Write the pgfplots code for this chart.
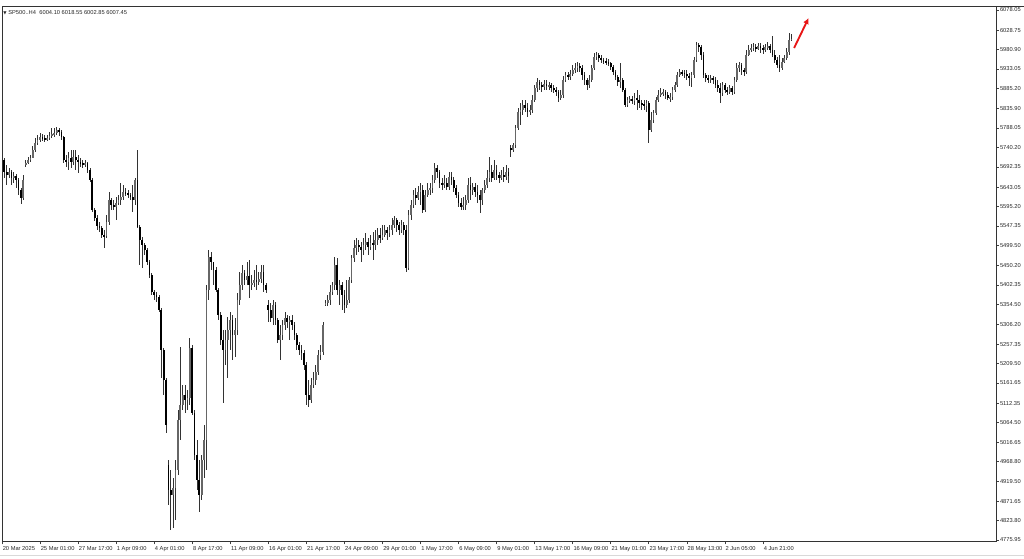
\documentclass[border=0pt]{standalone}
\usepackage{fontspec}
\setmainfont{Liberation Sans}
\newfontfamily\dejavu{DejaVu Sans}
\usepackage{pgfplots}
\usepackage{pgfplotstable}
\pgfplotsset{compat=1.18}
\usetikzlibrary{arrows.meta}
\definecolor{arrowred}{RGB}{232,22,22}

\pgfplotstableread{
i o h l c
-15 5709.5 5714.4 5665.3 5680.1
-14 5680.1 5697.2 5648.1 5672.7
-13 5672.7 5689.8 5665.3 5680.1
-12 5680.1 5685.0 5648.1 5665.3
-11 5665.3 5680.1 5653.0 5670.3
-10 5670.3 5675.2 5640.7 5660.4
-9 5660.4 5665.3 5623.5 5635.8
-8 5635.8 5640.7 5601.4 5616.1
-7 5616.1 5672.7 5611.2 5660.4
-6 5697.2 5709.5 5692.3 5702.1
-5 5702.1 5716.9 5699.7 5709.5
-4 5709.5 5721.8 5704.6 5714.4
-3 5714.4 5744.0 5714.4 5734.1
-2 5734.1 5763.5 5729.2 5751.3
-1 5751.3 5770.9 5746.4 5758.7
0 5758.7 5775.8 5753.8 5766.0
1 5766.0 5773.3 5756.2 5763.5
2 5763.5 5770.9 5753.8 5761.1
3 5761.1 5770.9 5756.2 5763.5
4 5763.5 5778.3 5758.7 5768.5
5 5768.5 5788.1 5763.5 5773.3
6 5773.3 5788.1 5766.0 5775.8
7 5775.8 5790.6 5770.9 5783.2
8 5783.2 5788.1 5768.5 5778.3
9 5778.3 5783.2 5758.7 5766.0
10 5766.0 5768.5 5702.1 5709.5
11 5709.5 5721.8 5692.3 5704.6
12 5704.6 5729.2 5685.0 5714.4
13 5714.4 5734.1 5689.8 5704.6
14 5704.6 5734.1 5697.2 5716.9
15 5716.9 5734.1 5685.0 5709.5
16 5709.5 5721.8 5677.6 5704.6
17 5704.6 5714.4 5692.3 5702.1
18 5702.1 5709.5 5689.8 5699.7
19 5699.7 5709.5 5692.3 5702.1
20 5702.1 5704.6 5677.6 5685.0
21 5685.0 5689.8 5655.5 5660.4
22 5660.4 5665.3 5581.8 5586.7
23 5586.7 5591.6 5559.6 5567.0
24 5567.0 5574.4 5537.5 5547.4
25 5547.4 5557.2 5532.6 5542.4
26 5542.4 5547.4 5517.9 5525.2
27 5525.2 5537.5 5493.3 5522.8
28 5522.8 5574.4 5517.9 5557.2
29 5557.2 5630.9 5549.8 5611.2
30 5611.2 5616.1 5586.7 5598.9
31 5598.9 5611.2 5586.7 5594.0
32 5594.0 5618.6 5562.1 5603.8
33 5603.8 5623.5 5598.9 5611.2
34 5611.2 5653.0 5598.9 5618.6
35 5618.6 5648.1 5611.2 5630.9
36 5630.9 5640.7 5621.1 5628.4
37 5628.4 5635.8 5616.1 5623.5
38 5623.5 5628.4 5611.2 5618.6
39 5618.6 5648.1 5581.8 5611.2
40 5611.2 5665.3 5598.9 5660.4
41 5660.4 5734.1 5542.4 5545.0
42 5545.0 5549.8 5451.5 5513.0
43 5513.0 5520.3 5444.2 5500.7
44 5500.7 5505.6 5476.1 5488.4
45 5488.4 5493.3 5451.5 5458.9
46 5458.9 5463.8 5419.6 5427.0
47 5427.0 5431.9 5377.8 5385.2
48 5385.2 5390.1 5365.6 5377.8
49 5377.8 5385.2 5360.7 5372.9
50 5372.9 5377.8 5336.1 5341.0
51 5341.0 5345.9 5173.9 5242.7
52 5242.7 5247.6 5132.2 5169.0
53 5169.0 5173.9 5038.8 5058.4
54 4960.2 4972.5 4861.9 4898.8
55 4898.8 4947.9 4800.5 4886.5
56 4886.5 4928.2 4805.4 4903.7
57 4903.7 4972.5 4825.1 4947.9
58 4947.9 5095.3 4935.6 5070.7
59 5070.7 5250.1 5021.6 5107.6
60 5107.6 5156.7 5095.3 5132.2
61 5132.2 5156.7 5087.9 5119.9
62 5119.9 5144.4 5095.3 5124.8
63 5124.8 5272.2 5107.6 5247.6
64 5247.6 5255.0 5083.0 5087.9
65 5087.9 5095.3 4972.5 4984.7
66 4984.7 5021.6 4898.8 4923.3
67 4923.3 4972.5 4844.7 4886.5
68 4886.5 4984.7 4874.2 4972.5
69 4972.5 5058.4 4928.2 5021.6
70 5021.6 5402.4 4947.9 5390.1
71 5390.1 5488.4 5365.6 5471.2
72 5471.2 5483.5 5439.3 5458.9
73 5458.9 5458.9 5402.4 5439.3
74 5439.3 5446.6 5385.2 5390.1
75 5390.1 5395.0 5316.4 5328.7
76 5328.7 5336.1 5255.0 5267.3
77 5267.3 5291.9 5112.5 5242.7
78 5242.7 5291.9 5205.9 5267.3
79 5267.3 5324.2 5173.9 5291.9
80 5291.9 5336.1 5242.7 5316.4
81 5316.4 5328.7 5218.2 5279.6
82 5279.6 5321.3 5225.6 5291.9
83 5291.9 5382.7 5279.6 5365.6
84 5365.6 5434.4 5353.3 5402.4
85 5402.4 5451.5 5390.1 5431.9
86 5431.9 5439.3 5402.4 5414.7
87 5414.7 5458.9 5402.4 5424.5
88 5424.5 5463.8 5370.5 5402.4
89 5402.4 5427.0 5390.1 5407.3
90 5407.3 5439.3 5397.5 5414.7
91 5414.7 5451.5 5390.1 5409.8
92 5409.8 5434.4 5402.4 5417.1
93 5417.1 5451.5 5407.3 5434.4
94 5434.4 5451.5 5385.2 5402.4
95 5402.4 5407.3 5382.7 5390.1
96 5353.3 5365.6 5311.5 5341.0
97 5341.0 5358.2 5311.5 5321.3
98 5321.3 5365.6 5304.1 5353.3
99 5353.3 5360.7 5304.1 5316.4
100 5316.4 5321.3 5259.9 5267.3
101 5267.3 5304.1 5218.2 5279.6
102 5279.6 5316.4 5267.3 5304.1
103 5304.1 5336.1 5291.9 5321.3
104 5321.3 5328.7 5296.8 5311.5
105 5311.5 5326.2 5267.3 5316.4
106 5316.4 5328.7 5291.9 5304.1
107 5304.1 5311.5 5267.3 5279.6
108 5279.6 5284.5 5242.7 5255.0
109 5255.0 5262.4 5230.4 5242.7
110 5242.7 5255.0 5218.2 5235.3
111 5235.3 5242.7 5193.6 5205.9
112 5205.9 5213.3 5107.6 5132.2
113 5132.2 5169.0 5102.7 5119.9
114 5119.9 5173.9 5112.5 5156.7
115 5156.7 5188.7 5149.3 5169.0
116 5169.0 5205.9 5156.7 5188.7
117 5188.7 5242.7 5181.3 5230.4
118 5230.4 5255.0 5218.2 5237.8
119 5237.8 5311.5 5230.4 5304.1
120 5353.3 5365.6 5350.9 5358.2
121 5358.2 5377.8 5350.9 5365.6
122 5365.6 5402.4 5353.3 5385.2
123 5385.2 5409.8 5377.8 5402.4
124 5402.4 5471.2 5390.1 5451.5
125 5451.5 5468.7 5377.8 5390.1
126 5390.1 5414.7 5353.3 5402.4
127 5402.4 5409.8 5341.0 5377.8
128 5377.8 5390.1 5333.6 5353.3
129 5353.3 5414.7 5345.9 5365.6
130 5365.6 5422.1 5358.2 5414.7
131 5414.7 5476.1 5407.3 5468.7
132 5468.7 5513.0 5458.9 5493.3
133 5493.3 5517.9 5476.1 5500.7
134 5500.7 5513.0 5483.5 5495.8
135 5495.8 5508.1 5458.9 5488.4
136 5488.4 5517.9 5476.1 5500.7
137 5500.7 5530.2 5488.4 5508.1
138 5508.1 5517.9 5476.1 5495.8
139 5495.8 5525.2 5488.4 5505.6
140 5505.6 5532.6 5463.8 5500.7
141 5500.7 5537.5 5488.4 5513.0
142 5513.0 5542.4 5500.7 5525.2
143 5525.2 5542.4 5505.6 5517.9
144 5517.9 5549.8 5513.0 5525.2
145 5525.2 5549.8 5520.3 5537.5
146 5537.5 5545.0 5513.0 5530.2
147 5530.2 5549.8 5520.3 5537.5
148 5537.5 5567.0 5525.2 5549.8
149 5549.8 5571.9 5542.4 5562.1
150 5562.1 5567.0 5532.6 5549.8
151 5549.8 5557.2 5525.2 5537.5
152 5537.5 5562.1 5530.2 5549.8
153 5549.8 5557.2 5525.2 5537.5
154 5537.5 5549.8 5434.4 5444.2
155 5444.2 5586.7 5439.3 5574.4
156 5574.4 5611.2 5562.1 5598.9
157 5598.9 5635.8 5591.6 5623.5
158 5623.5 5640.7 5598.9 5616.1
159 5616.1 5645.6 5611.2 5630.9
160 5630.9 5653.0 5598.9 5635.8
161 5635.8 5648.1 5579.3 5586.7
162 5586.7 5635.8 5581.8 5623.5
163 5623.5 5653.0 5618.6 5635.8
164 5635.8 5653.0 5623.5 5640.7
165 5640.7 5672.7 5628.4 5660.4
166 5660.4 5702.1 5653.0 5689.8
167 5689.8 5697.2 5665.3 5680.1
168 5680.1 5685.0 5640.7 5653.0
169 5653.0 5665.3 5635.8 5648.1
170 5648.1 5672.7 5640.7 5653.0
171 5653.0 5665.3 5635.8 5643.2
172 5643.2 5680.1 5635.8 5667.8
173 5667.8 5680.1 5648.1 5660.4
174 5660.4 5667.8 5630.9 5640.7
175 5640.7 5648.1 5616.1 5623.5
176 5623.5 5630.9 5594.0 5603.8
177 5603.8 5616.1 5586.7 5594.0
178 5594.0 5618.6 5586.7 5598.9
179 5598.9 5623.5 5586.7 5611.2
180 5611.2 5665.3 5603.8 5648.1
181 5648.1 5667.8 5611.2 5635.8
182 5635.8 5653.0 5623.5 5643.2
183 5643.2 5653.0 5618.6 5630.9
184 5630.9 5648.1 5603.8 5623.5
185 5623.5 5635.8 5579.3 5611.2
186 5611.2 5640.7 5598.9 5635.8
187 5635.8 5660.4 5628.4 5648.1
188 5648.1 5685.0 5640.7 5665.3
189 5665.3 5716.9 5655.5 5680.1
190 5680.1 5697.2 5655.5 5665.3
191 5665.3 5709.5 5660.4 5685.0
192 5685.0 5697.2 5660.4 5672.7
193 5672.7 5680.1 5653.0 5665.3
194 5665.3 5685.0 5660.4 5672.7
195 5672.7 5692.3 5655.5 5667.8
196 5667.8 5697.2 5660.4 5680.1
197 5680.1 5689.8 5653.0 5670.3
198 5739.0 5746.4 5716.9 5734.1
199 5734.1 5751.3 5729.2 5746.4
200 5746.4 5795.5 5739.0 5788.1
201 5788.1 5837.3 5783.2 5827.5
202 5827.5 5849.5 5795.5 5832.4
203 5832.4 5856.9 5820.1 5844.6
204 5844.6 5856.9 5827.5 5837.3
205 5837.3 5849.5 5815.2 5827.5
206 5827.5 5844.6 5820.1 5832.4
207 5832.4 5869.2 5824.9 5856.9
208 5856.9 5893.8 5852.0 5886.5
209 5886.5 5911.0 5876.6 5901.1
210 5901.1 5906.1 5881.5 5893.8
211 5893.8 5901.1 5876.6 5888.9
212 5888.9 5906.1 5881.5 5896.3
213 5896.3 5906.1 5881.5 5891.4
214 5891.4 5901.1 5881.5 5893.8
215 5893.8 5898.7 5876.6 5886.5
216 5886.5 5893.8 5874.1 5881.5
217 5881.5 5888.9 5866.7 5876.6
218 5876.6 5881.5 5852.0 5861.8
219 5861.8 5881.5 5856.9 5869.2
220 5869.2 5915.9 5861.8 5906.1
221 5906.1 5925.7 5901.1 5918.3
222 5918.3 5925.7 5906.1 5913.4
223 5913.4 5930.6 5906.1 5920.8
224 5920.8 5942.9 5915.9 5930.6
225 5930.6 5947.8 5923.2 5935.5
226 5935.5 5950.3 5925.7 5940.4
227 5940.4 5947.8 5925.7 5935.5
228 5935.5 5942.9 5906.1 5918.3
229 5918.3 5925.7 5893.8 5906.1
230 5906.1 5911.0 5881.5 5893.8
231 5893.8 5918.3 5886.5 5906.1
232 5906.1 5942.9 5901.1 5935.5
233 5935.5 5972.4 5930.6 5962.6
234 5962.6 5974.9 5955.2 5967.5
235 5967.5 5972.4 5950.3 5960.1
236 5960.1 5967.5 5947.8 5955.2
237 5955.2 5960.1 5945.3 5952.7
238 5952.7 5960.1 5942.9 5950.3
239 5950.3 5957.6 5940.4 5947.8
240 5947.8 5950.3 5930.6 5938.0
241 5938.0 5942.9 5918.3 5925.7
242 5925.7 5930.6 5906.1 5913.4
243 5913.4 5918.3 5891.4 5901.1
244 5901.1 5947.8 5886.5 5906.1
245 5906.1 5911.0 5876.6 5881.5
246 5881.5 5886.5 5839.7 5844.6
247 5844.6 5864.3 5839.7 5856.9
248 5856.9 5866.7 5849.5 5859.4
249 5859.4 5866.7 5847.1 5854.5
250 5854.5 5874.1 5844.6 5861.8
251 5861.8 5881.5 5832.4 5856.9
252 5856.9 5869.2 5837.3 5849.5
253 5849.5 5856.9 5832.4 5847.1
254 5847.1 5856.9 5832.4 5842.2
255 5842.2 5856.9 5827.5 5849.5
256 5849.5 5854.5 5751.3 5783.2
257 5783.2 5827.5 5778.3 5807.8
258 5807.8 5832.4 5800.4 5824.9
259 5824.9 5864.3 5820.1 5856.9
260 5856.9 5881.5 5852.0 5869.2
261 5869.2 5886.5 5864.3 5874.1
262 5874.1 5884.0 5866.7 5876.6
263 5876.6 5881.5 5859.4 5869.2
264 5869.2 5876.6 5856.9 5861.8
265 5861.8 5874.1 5852.0 5864.3
266 5864.3 5888.9 5856.9 5881.5
267 5881.5 5901.1 5876.6 5893.8
268 5893.8 5925.7 5888.9 5918.3
269 5918.3 5933.1 5913.4 5925.7
270 5925.7 5930.6 5915.9 5923.2
271 5923.2 5930.6 5911.0 5920.8
272 5920.8 5930.6 5906.1 5915.9
273 5915.9 5923.2 5891.4 5911.0
274 5911.0 5925.7 5888.9 5918.3
275 5918.3 5962.6 5911.0 5955.2
276 5955.2 5999.4 5950.3 5992.0
277 5992.0 5997.0 5974.9 5987.1
278 5987.1 5992.0 5955.2 5967.5
279 5967.5 5974.9 5911.0 5918.3
280 5918.3 5923.2 5901.1 5911.0
281 5911.0 5918.3 5898.7 5906.1
282 5906.1 5918.3 5898.7 5911.0
283 5911.0 5915.9 5896.3 5906.1
284 5906.1 5913.4 5886.5 5893.8
285 5893.8 5906.1 5876.6 5886.5
286 5886.5 5898.7 5849.5 5874.1
287 5874.1 5901.1 5866.7 5893.8
288 5893.8 5898.7 5874.1 5881.5
289 5881.5 5888.9 5869.2 5876.6
290 5876.6 5893.8 5871.6 5886.5
291 5886.5 5891.4 5869.2 5876.6
292 5876.6 5913.4 5871.6 5906.1
293 5906.1 5947.8 5901.1 5935.5
294 5935.5 5950.3 5925.7 5942.9
295 5942.9 5947.8 5918.3 5930.6
296 5930.6 5935.5 5915.9 5925.7
297 5925.7 5979.8 5920.8 5967.5
298 5967.5 5992.0 5965.0 5979.8
299 5979.8 5994.5 5974.9 5984.7
300 5984.7 5997.0 5977.3 5987.1
301 5987.1 5994.5 5974.9 5982.2
302 5982.2 5997.0 5979.8 5989.6
303 5989.6 5997.0 5972.4 5984.7
304 5984.7 5992.0 5969.9 5979.8
305 5979.8 5994.5 5974.9 5987.1
306 5987.1 5999.4 5979.8 5989.6
307 5989.6 5994.5 5972.4 5979.8
308 5979.8 6014.2 5962.6 5967.5
309 5967.5 5979.8 5947.8 5955.2
310 5955.2 5962.6 5935.5 5942.9
311 5942.9 5967.5 5925.7 5935.5
312 5935.5 5960.1 5930.6 5950.3
313 5950.3 5967.5 5947.8 5960.1
314 5960.1 5984.7 5955.2 5974.9
315 5974.9 6021.5 5967.5 6004.1
316 6004.10 6018.55 6002.85 6007.45
}\candles

\begin{document}
\begin{tikzpicture}
\begin{axis}[
  scale only axis, width=745.5pt, height=401.25pt,
  xmin=-15.98, xmax=402, ymin=4772.3, ymax=6086.6,
  axis line style={black!80, line width=0.6pt},
  tick align=outside, major tick length=2.2pt,
  tick style={black!75, line width=0.5pt},
  xtick pos=bottom, ytick pos=right, yticklabel pos=right,
  xtick={-15.98,0,16,32,48,64,80,96,112,128,144,160,176,192,208,224,240,256,272,288,304},
  xticklabels={20 Mar 2025,25 Mar 01:00,27 Mar 17:00,1 Apr 09:00,4 Apr 01:00,8 Apr 17:00,11 Apr 09:00,16 Apr 01:00,21 Apr 17:00,24 Apr 09:00,29 Apr 01:00,1 May 17:00,6 May 09:00,9 May 01:00,13 May 17:00,16 May 09:00,21 May 01:00,23 May 17:00,28 May 13:00,2 Jun 05:00,4 Jun 21:00},
  ytick={6078.05,6028.75,5980.90,5933.05,5885.20,5835.90,5788.05,5740.20,5692.35,5643.05,5595.20,5547.35,5499.50,5450.20,5402.35,5354.50,5306.20,5257.35,5209.50,5161.65,5112.35,5064.50,5016.65,4968.80,4919.50,4871.65,4823.80,4775.95},
  yticklabels={6078.05,6028.75,5980.90,5933.05,5885.20,5835.90,5788.05,5740.20,5692.35,5643.05,5595.20,5547.35,5499.50,5450.20,5402.35,5354.50,5306.20,5257.35,5209.50,5161.65,5112.35,5064.50,5016.65,4968.80,4919.50,4871.65,4823.80,4775.95},
  ticklabel style={font=\fontsize{4.3}{5}\selectfont, text=black!85},
  xticklabel style={anchor=north west, inner sep=0pt, xshift=0.4pt, yshift=-1.5pt},
  yticklabel style={anchor=west, inner sep=0pt, xshift=0.6pt},
]
% wicks
\addplot[draw=none, mark=none, forget plot,
  error bars/.cd, y dir=both, y explicit, error mark=none,
  error bar style={draw=black!80, line width=0.6pt}]
  table[x=i, y expr={(\thisrow{h}+\thisrow{l})/2}, y error expr={(\thisrow{h}-\thisrow{l})/2}] {\candles};
% bullish bodies
\addplot[draw=none, mark=none, forget plot,
  restrict expr to domain={\thisrow{c}-\thisrow{o}}{0:100000},
  error bars/.cd, y dir=both, y explicit, error mark=none,
  error bar style={draw=black!60, line width=1.3pt}]
  table[x=i, y expr={(\thisrow{o}+\thisrow{c})/2}, y error expr={abs(\thisrow{c}-\thisrow{o})/2}] {\candles};
% bearish bodies
\addplot[draw=none, mark=none, forget plot,
  restrict expr to domain={\thisrow{c}-\thisrow{o}}{-100000:0},
  error bars/.cd, y dir=both, y explicit, error mark=none,
  error bar style={draw=black, line width=1.3pt}]
  table[x=i, y expr={(\thisrow{o}+\thisrow{c})/2}, y error expr={abs(\thisrow{c}-\thisrow{o})/2}] {\candles};

\draw[arrowred, line width=1.4pt, -{Latex[length=4.5pt,width=4.5pt]}] (axis cs:317.1,5984.7) -- (axis cs:323.2,6058.4);

\node[anchor=west, inner sep=0pt, font=\fontsize{4.3}{5}\selectfont, text=black!85] at ([xshift=0.9pt,yshift=-4.9pt]rel axis cs:0,1) {{\dejavu\fontsize{3.2}{4}\selectfont ▼}\kern1.2pt SP500..H4\kern2.5pt 6004.10 6018.55 6002.85 6007.45};
\node[anchor=west, fill=black, text=white, inner xsep=1.4pt, inner ysep=0.9pt, font=\fontsize{4.3}{5}\selectfont] at ([xshift=0.6pt]axis cs:402,6007.45) {6007.45};

\coordinate (SW) at (rel axis cs:0,0);
\coordinate (NE) at (rel axis cs:1,1);
\end{axis}
\draw[black!80, line width=0.6pt] (NE) -- ([xshift=21pt]NE);
\draw[black!15, line width=0.6pt] ([xshift=-1.5pt,yshift=-10.1pt]SW) -- ([xshift=21pt,yshift=-10.1pt]SW -| NE);
\pgfresetboundingbox
\path[use as bounding box] ([xshift=-1.5pt,yshift=-13.125pt]SW) rectangle ([xshift=21pt,yshift=4.875pt]NE);
\end{tikzpicture}
\end{document}
